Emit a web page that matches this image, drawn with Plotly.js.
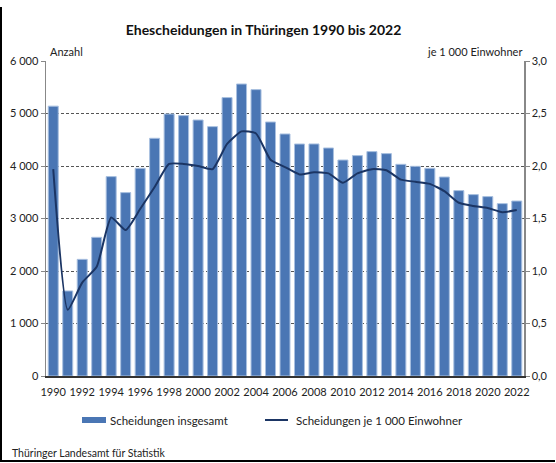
<!DOCTYPE html>
<html>
<head>
<meta charset="utf-8">
<script src="https://cdn.plot.ly/plotly-3.0.1.min.js"></script>
<style>
html,body{margin:0;padding:0;background:#fff;}
#wrap{position:relative;width:556px;height:463px;}
#chart{width:556px;height:463px;}
#frame{position:absolute;left:0;top:7px;width:553px;height:453px;border-left:2px solid #000;border-bottom:2px solid #000;pointer-events:none;}
</style>
</head>
<body>
<div id="wrap"><div id="chart"></div><div id="frame"></div></div>
<script>
const years = [1990,1991,1992,1993,1994,1995,1996,1997,1998,1999,2000,2001,2002,2003,2004,2005,2006,2007,2008,2009,2010,2011,2012,2013,2014,2015,2016,2017,2018,2019,2020,2021,2022];
const scheidungen = [5140,1620,2222,2642,3798,3493,3956,4528,4990,4960,4876,4750,5303,5562,5455,4838,4610,4419,4420,4343,4114,4198,4274,4236,4032,3994,3956,3790,3531,3455,3417,3283,3333];
const jeTausend = [1.97,0.63,0.89,1.04,1.51,1.39,1.59,1.80,2.02,2.02,2.00,1.97,2.21,2.33,2.31,2.06,1.99,1.92,1.94,1.93,1.84,1.93,1.97,1.96,1.87,1.85,1.83,1.76,1.65,1.62,1.60,1.56,1.58];
const leftTicks = [0,1000,2000,3000,4000,5000,6000];
const leftTickText = ['0','1 000','2 000','3 000','4 000','5 000','6 000'];
const rightTicks = [0,0.5,1,1.5,2,2.5,3];
const rightTickText = ['0,0','0,5','1,0','1,5','2,0','2,5','3,0'];
const xTicks = [1990,1992,1994,1996,1998,2000,2002,2004,2006,2008,2010,2012,2014,2016,2018,2020,2022];
const seriesNames = ['Scheidungen insgesamt','Scheidungen je 1 000 Einwohner'];

const fontFam = 'Lato, "Noto Sans", sans-serif';
const barColor = '#4a76b4';
const lineColor = '#1b3564';

const traces = [
  {
    type:'bar', x:years, y:scheidungen, name:seriesNames[0],
    marker:{color:barColor, line:{color:'#a9c0e0', width:1}},
    yaxis:'y'
  },
  {
    type:'scatter', mode:'lines', x:years, y:jeTausend, name:seriesNames[1],
    line:{color:lineColor, width:2, shape:'spline', smoothing:0.5},
    yaxis:'y2'
  }
];

const layout = {
  width:556, height:463,
  margin:{l:46, r:32, t:61, b:87},
  paper_bgcolor:'#fff', plot_bgcolor:'#fff',
  font:{family:fontFam, size:11, color:'#222'},
  bargap:0.31,
  showlegend:false,
  title:{text:'<b>Ehescheidungen in Thüringen 1990 bis 2022</b>', x:0.474, xanchor:'center', y:0.935, yanchor:'middle', font:{size:14, color:'#111', family:fontFam}},
  xaxis:{
    range:[1989.5,2022.5], tickvals:xTicks, ticktext:xTicks.map(String),
    showgrid:false, zeroline:false, showline:true, linecolor:'#333', linewidth:1.5,
    ticks:'outside', ticklen:5, tickcolor:'rgba(0,0,0,0)', tickfont:{size:11}
  },
  yaxis:{
    range:[0,6000], tickvals:leftTicks, ticktext:leftTickText,
    showgrid:true, gridcolor:'#555', griddash:'3px,2px', gridwidth:1,
    zeroline:false, showline:true, linecolor:'#888', linewidth:1.5,
    ticks:'outside', ticklen:4, tickcolor:'#888', tickfont:{size:11}
  },
  yaxis2:{
    range:[0,3], overlaying:'y', side:'right', tickvals:rightTicks, ticktext:rightTickText,
    showgrid:false, zeroline:false, showline:true, linecolor:'#888', linewidth:1.5,
    ticks:'outside', ticklen:4, tickcolor:'#888', tickfont:{size:11}
  },
  shapes:[
    {type:'rect', xref:'paper', yref:'paper', x0:0.0753, x1:0.1255, y0:-0.1492, y1:-0.1302, fillcolor:barColor, line:{width:0}},
    {type:'line', xref:'paper', yref:'paper', x0:0.4582, x1:0.5063, y0:-0.1397, y1:-0.1397, line:{color:lineColor, width:2}}
  ],
  annotations:[
    {xref:'paper', yref:'paper', x:0.004, y:1.0, xanchor:'left', yanchor:'bottom', text:'Anzahl', showarrow:false, font:{size:11}, yshift:1},
    {xref:'paper', yref:'paper', x:1.0, y:1.0, xanchor:'right', yanchor:'bottom', text:'je 1 000 Einwohner', showarrow:false, font:{size:11}, yshift:1},
    {xref:'paper', yref:'paper', x:0.1297, y:-0.1397, xanchor:'left', yanchor:'middle', text:seriesNames[0], showarrow:false, font:{size:11.5}},
    {xref:'paper', yref:'paper', x:0.5188, y:-0.1397, xanchor:'left', yanchor:'middle', text:seriesNames[1], showarrow:false, font:{size:11.5}},
    {xref:'paper', yref:'paper', x:-0.076, y:-0.245, xanchor:'left', yanchor:'middle', text:'Thüringer Landesamt für Statistik', showarrow:false, font:{size:10.5}}
  ]
};

Plotly.newPlot('chart', traces, layout, {displayModeBar:false, staticPlot:true});
</script>
</body>
</html>
